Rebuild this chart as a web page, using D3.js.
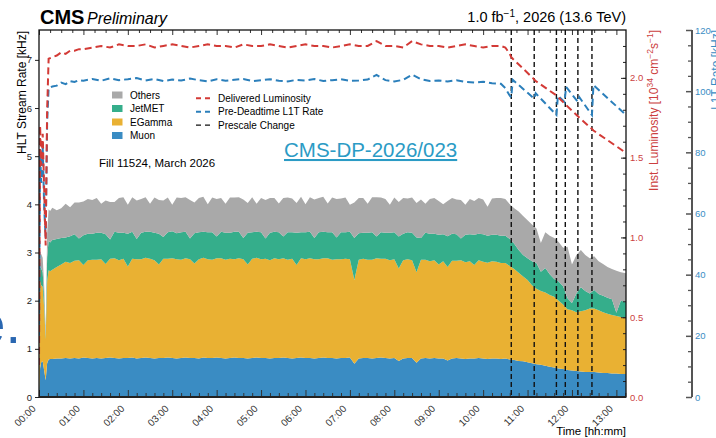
<!DOCTYPE html>
<html>
<head>
<meta charset="utf-8">
<script src="https://cdn.jsdelivr.net/npm/d3@7"></script>
<style>
  body { margin: 0; background: #fff; overflow: hidden; }
  svg text { font-family: "Liberation Sans", Arial, sans-serif; }
</style>
</head>
<body>
<script>
'use strict';

// stacked HLT stream rates, sampled in minutes since 00:00
const minutes = [
  0, 1.5, 3, 5, 7, 9, 11, 13, 15,
  18, 24, 30, 36, 42, 48, 54, 60, 66, 72, 78, 84, 90, 96, 102, 108, 114, 120, 126, 132,
  138, 144, 150, 156, 162, 168, 174, 180, 186, 192, 198, 204, 210, 216, 222, 228, 234, 240, 246, 252,
  258, 264, 270, 276, 282, 288, 294, 300, 306, 312, 318, 324, 330, 336, 342, 348, 354, 360, 366, 372,
  378, 384, 390, 396, 402, 408, 414, 420, 426, 432, 438, 444, 450, 456, 462, 468, 474, 480, 486, 492,
  498, 504, 510, 516, 522, 528, 534, 540, 546, 552, 558, 564, 570, 576, 582, 588, 594, 600, 606, 612,
  618, 624, 630,
  636, 642, 648, 654, 660, 666, 672, 678, 684, 690, 696, 702, 708, 714, 720, 726, 732, 738, 744, 750,
  756, 762, 768, 774, 780, 786, 793
];

const muon = [
  0.05, 0.60, 0.72, 0.74, 0.55, 0.35, 0.70, 0.78, 0.79,
  0.79, 0.80, 0.80, 0.81, 0.80, 0.81, 0.80, 0.82, 0.81, 0.80,
  0.81, 0.80, 0.81, 0.82, 0.81, 0.80, 0.81, 0.81, 0.82, 0.80,
  0.81, 0.82, 0.81, 0.80, 0.81, 0.81, 0.82, 0.81, 0.80, 0.81,
  0.82, 0.81, 0.81, 0.80, 0.82, 0.81, 0.81, 0.82, 0.81, 0.80,
  0.81, 0.82, 0.81, 0.81, 0.80, 0.81, 0.82, 0.81, 0.81, 0.80,
  0.81, 0.81, 0.82, 0.81, 0.80, 0.81, 0.82, 0.81, 0.81, 0.80,
  0.81, 0.82, 0.81, 0.81, 0.80, 0.81, 0.81, 0.82, 0.69, 0.80,
  0.81, 0.81, 0.80, 0.81, 0.82, 0.81, 0.80, 0.81, 0.75, 0.80,
  0.81, 0.81, 0.71, 0.80, 0.81, 0.80, 0.81, 0.80, 0.80, 0.76,
  0.80, 0.81, 0.80, 0.79, 0.80, 0.80, 0.81, 0.80, 0.79, 0.80,
  0.80, 0.79, 0.80,
  0.78, 0.77, 0.75, 0.74, 0.72, 0.70, 0.68, 0.67, 0.65, 0.63, 0.61, 0.59, 0.58, 0.56, 0.55,
  0.54, 0.53, 0.52, 0.52, 0.52, 0.51, 0.50, 0.50, 0.49, 0.49, 0.48, 0.48
];

const egamma = [
  0.40, 1.80, 1.60, 1.55, 1.30, 0.85, 1.70, 1.85, 1.82,
  1.85, 1.90, 1.95, 2.00, 1.98, 2.02, 2.04, 1.92, 2.03, 2.05,
  2.04, 2.06, 1.95, 2.05, 2.07, 2.04, 2.06, 1.90, 2.05, 2.06,
  2.05, 2.07, 2.06, 2.04, 1.94, 2.06, 2.05, 2.07, 2.06, 2.04,
  2.06, 2.05, 1.96, 2.06, 2.07, 2.05, 2.04, 2.06, 2.07, 2.05,
  2.06, 2.04, 2.07, 2.05, 1.95, 2.06, 2.07, 2.05, 2.06, 2.04,
  2.07, 2.05, 2.06, 2.04, 2.07, 1.93, 2.06, 2.05, 2.07, 2.06,
  2.05, 2.06, 2.07, 2.04, 2.06, 2.05, 2.06, 2.04, 1.74, 2.05,
  2.06, 2.04, 2.05, 2.07, 2.05, 2.06, 2.04, 2.05, 1.92, 2.04,
  2.05, 2.03, 1.88, 2.05, 2.04, 2.02, 2.03, 1.95, 2.02, 1.94,
  2.03, 2.02, 2.04, 2.01, 2.02, 1.94, 2.03, 2.01, 2.00, 2.02,
  2.01, 1.99, 1.98,
  1.94, 1.89, 1.83, 1.76, 1.71, 1.62, 1.57, 1.53, 1.52, 1.49, 1.47, 1.41, 1.34, 1.26, 1.25,
  1.22, 1.25, 1.28, 1.32, 1.32, 1.29, 1.26, 1.23, 1.21, 1.19, 1.18, 1.16
];

const jetmet = [
  0.05, 0.30, 0.35, 0.30, 0.20, 0.05, 0.50, 0.62, 0.60,
  0.62, 0.58, 0.55, 0.50, 0.56, 0.55, 0.45, 0.62, 0.55, 0.54,
  0.56, 0.55, 0.62, 0.40, 0.55, 0.57, 0.54, 0.68, 0.56, 0.42,
  0.55, 0.54, 0.56, 0.57, 0.64, 0.45, 0.55, 0.56, 0.54, 0.57,
  0.55, 0.43, 0.63, 0.56, 0.54, 0.56, 0.57, 0.45, 0.55, 0.56,
  0.54, 0.57, 0.55, 0.44, 0.66, 0.55, 0.54, 0.56, 0.42, 0.57,
  0.55, 0.56, 0.45, 0.57, 0.55, 0.67, 0.54, 0.56, 0.55, 0.44,
  0.56, 0.55, 0.54, 0.57, 0.45, 0.56, 0.55, 0.57, 0.87, 0.55,
  0.54, 0.56, 0.57, 0.45, 0.55, 0.54, 0.57, 0.56, 0.66, 0.55,
  0.56, 0.57, 0.72, 0.45, 0.56, 0.57, 0.55, 0.62, 0.56, 0.64,
  0.56, 0.55, 0.45, 0.57, 0.56, 0.63, 0.55, 0.57, 0.56, 0.55,
  0.56, 0.57, 0.57,
  0.56, 0.52, 0.47, 0.45, 0.45, 0.50, 0.53, 0.40, 0.51, 0.43, 0.37, 0.40, 0.38, 0.23, 0.15,
  0.39, 0.50, 0.40, 0.31, 0.38, 0.34, 0.34, 0.33, 0.33, 0.07, 0.34, 0.33
];

const others = [
  0.05, 0.25, 0.30, 0.30, 0.25, 0.10, 0.50, 0.65, 0.65,
  0.67, 0.60, 0.62, 0.70, 0.60, 0.66, 0.75, 0.70, 0.72, 0.70,
  0.72, 0.60, 0.70, 0.78, 0.62, 0.72, 0.74, 0.60, 0.72, 0.80,
  0.70, 0.72, 0.58, 0.73, 0.70, 0.76, 0.72, 0.55, 0.74, 0.71,
  0.72, 0.80, 0.64, 0.71, 0.73, 0.58, 0.72, 0.78, 0.70, 0.60,
  0.73, 0.71, 0.72, 0.80, 0.62, 0.73, 0.58, 0.71, 0.80, 0.72,
  0.70, 0.60, 0.80, 0.72, 0.70, 0.62, 0.74, 0.58, 0.72, 0.80,
  0.71, 0.73, 0.60, 0.72, 0.80, 0.70, 0.72, 0.56, 0.74, 0.73,
  0.72, 0.60, 0.73, 0.82, 0.72, 0.70, 0.58, 0.72, 0.72, 0.74,
  0.70, 0.73, 0.72, 0.80, 0.60, 0.72, 0.74, 0.70, 0.62, 0.73,
  0.74, 0.72, 0.80, 0.62, 0.73, 0.70, 0.74, 0.72, 0.60, 0.75,
  0.76, 0.78, 0.76,
  0.72, 0.74, 0.80, 0.81, 0.79, 0.76, 0.72, 0.60, 0.74, 0.80, 0.85, 0.82, 0.80, 1.07, 0.80,
  0.80, 0.77, 0.75, 0.73, 0.70, 0.68, 0.66, 0.64, 0.63, 0.87, 0.59, 0.60
];

// luminosity and L1T rate, sampled in minutes since 00:00
const lineMinutes = [
  0, 1.5, 3, 5, 7, 9, 11, 13,
  18, 24, 30, 36, 42, 48, 54, 60,
  72, 84, 96, 108, 120, 132, 144, 156, 168, 180, 192, 204, 216, 228, 240, 252,
  264, 276, 288, 300, 312, 324, 336, 348, 360, 372, 384, 396, 408, 420, 432, 444,
  456, 468, 480, 492, 504, 516, 528, 540, 552, 564, 576, 588, 600, 612, 624,
  630, 636, 638, 640, 667, 669, 671, 699, 701, 710, 712, 728, 730, 747, 749, 793
];

// delivered luminosity [1e34 cm^-2 s^-1]
const lumi = [
  0.20, 1.70, 1.45, 1.65, 1.30, 0.95, 1.80, 2.12,
  2.13, 2.14, 2.16, 2.15, 2.17, 2.17, 2.18, 2.18,
  2.19, 2.20, 2.19, 2.21, 2.20, 2.20, 2.21, 2.19, 2.20, 2.21, 2.20, 2.19, 2.20, 2.21, 2.20, 2.20,
  2.19, 2.21, 2.20, 2.20, 2.21, 2.20, 2.19, 2.20, 2.21, 2.20, 2.20, 2.19, 2.20, 2.21, 2.20, 2.20,
  2.23, 2.20, 2.20, 2.19, 2.23, 2.21, 2.20, 2.20, 2.19, 2.20, 2.21, 2.20, 2.19, 2.20, 2.20,
  2.19, 2.15, 2.13, 2.12, 2.00, 1.99, 1.98, 1.89, 1.88, 1.84, 1.83, 1.76, 1.75, 1.68, 1.67, 1.53
];

// pre-deadtime L1T rate [kHz]
const l1tRate = [
  20, 80, 70, 82, 62, 52, 90, 101,
  101.5, 101.8, 102.8, 102.3, 103.3, 103.0, 103.6, 103.4,
  104.0, 103.4, 104.2, 103.6, 103.9, 104.3, 103.5, 104.0, 103.3, 103.8, 103.5, 104.1, 103.6, 103.2, 103.9, 103.4,
  103.7, 104.0, 103.3, 103.6, 103.9, 103.4, 103.2, 103.7, 103.5, 104.0, 103.3, 103.6, 103.9, 103.4, 103.5, 103.8,
  105.3, 103.6, 103.2, 103.7, 105.4, 103.9, 103.3, 103.5, 103.2, 103.6, 103.0, 102.8, 103.1, 102.6, 102.4,
  101.0, 98.5, 98.0, 103.7, 98.0, 97.6, 99.3, 92.2, 98.5, 96.5, 101.4, 96.5, 98.0, 92.2, 102.0, 92.2
];

const prescaleMinutes = [638, 669, 699, 711, 728, 747];

const hourLabels = ["00:00", "01:00", "02:00", "03:00", "04:00", "05:00", "06:00",
  "07:00", "08:00", "09:00", "10:00", "11:00", "12:00", "13:00"];
const rateTicks = [0, 1, 2, 3, 4, 5, 6, 7];
const lumiTicks = [0, 0.5, 1.0, 1.5, 2.0];
const l1tTicks = [0, 20, 40, 60, 80, 100, 120];

const stackKeys = ["Muon", "EGamma", "JetMET", "Others"];
const stackLegend = ["Others", "JetMET", "EGamma", "Muon"];
const lineLegend = ["Delivered Luminosity", "Pre-Deadtime L1T Rate", "Prescale Change"];

(function() {

  let svg = null;
  const plot = { left: 39, right: 626, top: 30, bottom: 397 };
  const colors = {
    Others: "#a9a9a9",
    JetMET: "#35ae8b",
    EGamma: "#e9b133",
    Muon: "#3a8cc3"
  };
  const red = "#d33a36";
  const blue = "#2b7fbb";
  const redText = "#cc3f3f";
  const blueText = "#3a8dc4";

  window.onload = function() {
    svg = d3.select('body')
      .append('svg')
      .attr('width', 716)
      .attr('height', 438);

    svg.append('defs').append('clipPath')
      .attr('id', 'plotclip')
      .append('rect')
      .attr('x', plot.left)
      .attr('y', plot.top)
      .attr('width', plot.right - plot.left)
      .attr('height', plot.bottom - plot.top);

    let s = makeScales();
    drawStack(s);
    drawPrescale(s);
    drawLines(s);
    drawAxes(s);
    makeLabels();
    makeLegend();
  }

  function makeScales() {
    return {
      x: d3.scaleLinear().domain([0, 793]).range([plot.left, plot.right]),
      y: d3.scaleLinear().domain([0, 7.62]).range([plot.bottom, plot.top]),
      lumi: d3.scaleLinear().domain([0, 2.30]).range([plot.bottom, plot.top]),
      l1t: d3.scaleLinear().domain([0, 120]).range([plot.bottom, plot.top])
    };
  }

  // stacked areas: Muon at the bottom, Others on top
  function drawStack(s) {
    let rows = minutes.map((m, i) => ({
      t: m, Muon: muon[i], EGamma: egamma[i], JetMET: jetmet[i], Others: others[i]
    }));
    let series = d3.stack().keys(stackKeys)(rows);

    let area = d3.area()
      .x(d => s.x(d.data.t))
      .y0(d => s.y(d[0]))
      .y1(d => s.y(d[1]));

    svg.append('g')
      .attr('clip-path', 'url(#plotclip)')
      .selectAll('path')
      .data(series)
      .enter()
      .append('path')
        .attr('d', area)
        .attr('fill', d => colors[d.key]);
  }

  function drawPrescale(s) {
    svg.append('g')
      .selectAll('line')
      .data(prescaleMinutes)
      .enter()
      .append('line')
        .attr('x1', d => s.x(d))
        .attr('x2', d => s.x(d))
        .attr('y1', plot.top)
        .attr('y2', plot.bottom)
        .attr('stroke', '#111')
        .attr('stroke-width', 1.4)
        .attr('stroke-dasharray', '5,3');
  }

  function drawLines(s) {
    let pts = lineMinutes.map((m, i) => ({ t: m, lumi: lumi[i], l1t: l1tRate[i] }));
    let g = svg.append('g').attr('clip-path', 'url(#plotclip)');

    g.append('path')
      .datum(pts)
      .attr('d', d3.line().x(d => s.x(d.t)).y(d => s.l1t(d.l1t)))
      .attr('fill', 'none')
      .attr('stroke', blue)
      .attr('stroke-width', 2)
      .attr('stroke-dasharray', '7,4');

    g.append('path')
      .datum(pts)
      .attr('d', d3.line().x(d => s.x(d.t)).y(d => s.lumi(d.lumi)))
      .attr('fill', 'none')
      .attr('stroke', red)
      .attr('stroke-width', 2)
      .attr('stroke-dasharray', '7,4');
  }

  function styleAxis(g, color, size) {
    g.select('.domain').remove();
    g.selectAll('line').attr('stroke', color);
    g.selectAll('text').style('font-size', size).attr('fill', color);
  }

  function drawAxes(s) {
    let hours = hourLabels.map(l => +l.slice(0, 2) * 60);
    let minor12 = d3.range(0, 794, 12).filter(v => v % 60 !== 0);
    let minor15 = d3.range(0, 794, 15).filter(v => v % 60 !== 0);

    // bottom axis, inward ticks and rotated labels
    let xb = svg.append('g')
      .attr('transform', 'translate(0,' + plot.bottom + ')')
      .call(d3.axisBottom(s.x).tickValues(hours).tickSize(-7)
        .tickFormat((d, i) => hourLabels[i]));
    styleAxis(xb, '#333', '10px');
    xb.selectAll('text')
      .attr('x', -11)
      .attr('y', 3)
      .attr('dy', '0.35em')
      .attr('transform', 'rotate(-45)')
      .style('text-anchor', 'end');

    let xbm = svg.append('g')
      .attr('transform', 'translate(0,' + plot.bottom + ')')
      .call(d3.axisBottom(s.x).tickValues(minor12).tickSize(-4).tickFormat(''));
    styleAxis(xbm, '#333', '1px');

    // top axis, ticks only
    let xt = svg.append('g')
      .attr('transform', 'translate(0,' + plot.top + ')')
      .call(d3.axisTop(s.x).tickValues(hours).tickSize(-5).tickFormat(''));
    styleAxis(xt, '#333', '1px');
    let xtm = svg.append('g')
      .attr('transform', 'translate(0,' + plot.top + ')')
      .call(d3.axisTop(s.x).tickValues(minor15).tickSize(-3).tickFormat(''));
    styleAxis(xtm, '#333', '1px');

    // left HLT rate axis
    let yl = svg.append('g')
      .attr('transform', 'translate(' + plot.left + ',0)')
      .call(d3.axisLeft(s.y).tickValues(rateTicks).tickSize(4).tickPadding(3));
    styleAxis(yl, '#222', '9.5px');

    // right luminosity axis, inward ticks
    let yr = svg.append('g')
      .attr('transform', 'translate(' + plot.right + ',0)')
      .call(d3.axisRight(s.lumi).tickValues(lumiTicks).tickSize(-5).tickPadding(4)
        .tickFormat(d3.format('.1f')));
    styleAxis(yr, '#222', '9.5px');
    yr.selectAll('text').attr('fill', redText);
    let yrm = svg.append('g')
      .attr('transform', 'translate(' + plot.right + ',0)')
      .call(d3.axisRight(s.lumi).tickValues(d3.range(0.1, 2.3, 0.1)).tickSize(-3).tickFormat(''));
    styleAxis(yrm, '#222', '1px');

    // plot frame
    svg.append('rect')
      .attr('x', plot.left)
      .attr('y', plot.top)
      .attr('width', plot.right - plot.left)
      .attr('height', plot.bottom - plot.top)
      .attr('fill', 'none')
      .attr('stroke', '#111')
      .attr('stroke-width', 1.3);
    svg.append('line')
      .attr('x1', plot.left).attr('x2', plot.right)
      .attr('y1', plot.bottom).attr('y2', plot.bottom)
      .attr('stroke', '#222')
      .attr('stroke-width', 2.2);

    // detached L1T rate axis
    let ax = 692;
    let y3 = svg.append('g')
      .attr('transform', 'translate(' + ax + ',0)')
      .call(d3.axisRight(s.l1t).tickValues(l1tTicks).tickSize(-6).tickPadding(3));
    styleAxis(y3, '#555', '9.5px');
    y3.selectAll('line').attr('stroke-width', 1.5);
    y3.selectAll('text').attr('fill', blueText);
    let y3m = svg.append('g')
      .attr('transform', 'translate(' + ax + ',0)')
      .call(d3.axisRight(s.l1t).tickValues(d3.range(5, 120, 5).filter(v => v % 20 !== 0))
        .tickSize(-4).tickFormat(''));
    styleAxis(y3m, '#555', '1px');
    y3m.selectAll('line').attr('stroke-width', 1.3);
    svg.append('line')
      .attr('x1', ax).attr('x2', ax)
      .attr('y1', plot.top).attr('y2', plot.bottom)
      .attr('stroke', '#555')
      .attr('stroke-width', 2);
  }

  // text made of parts [string, isSuperscript]
  function superText(sel, parts, supSize) {
    let shift = 0;
    parts.forEach(p => {
      let want = p[1] ? -5 : 0;
      let span = sel.append('tspan').attr('dy', want - shift).text(p[0]);
      if (p[1]) span.style('font-size', supSize);
      shift = want;
    });
  }

  function makeLabels() {
    svg.append('text')
      .attr('x', 40)
      .attr('y', 24)
      .style('font-size', '20px')
      .style('font-weight', 'bold')
      .text('CMS');
    svg.append('text')
      .attr('x', 87)
      .attr('y', 24)
      .style('font-size', '16px')
      .style('font-style', 'italic')
      .text('Preliminary');

    let lumiText = svg.append('text')
      .attr('x', 626)
      .attr('y', 22)
      .attr('text-anchor', 'end')
      .style('font-size', '14.5px');
    superText(lumiText, [['1.0 fb', false], ['\u22121', true], [', 2026 (13.6 TeV)', false]], '10px');

    svg.append('text')
      .attr('transform', 'translate(26,31)rotate(-90)')
      .attr('text-anchor', 'end')
      .style('font-size', '12px')
      .text('HLT Stream Rate [kHz]');

    let lumiTitle = svg.append('text')
      .attr('transform', 'translate(658,30)rotate(-90)')
      .attr('text-anchor', 'end')
      .attr('fill', redText)
      .style('font-size', '12px');
    superText(lumiTitle, [['Inst. Luminosity [10', false], ['34', true], [' cm', false],
      ['\u22122', true], ['s', false], ['\u22121', true], [']', false]], '8.5px');

    svg.append('text')
      .attr('transform', 'translate(720,30)rotate(-90)')
      .attr('text-anchor', 'end')
      .attr('fill', blueText)
      .style('font-size', '12px')
      .text('L1T Rate [kHz]');

    svg.append('text')
      .attr('x', 626)
      .attr('y', 435)
      .attr('text-anchor', 'end')
      .style('font-size', '11.5px')
      .text('Time [hh:mm]');

    svg.append('text')
      .attr('x', 99)
      .attr('y', 167)
      .style('font-size', '11.5px')
      .text('Fill 11524, March 2026');

    svg.append('text')
      .attr('x', 284)
      .attr('y', 157)
      .attr('fill', '#2b9bc5')
      .style('font-size', '20.5px')
      .style('text-decoration', 'underline')
      .text('CMS-DP-2026/023');

    // piece of slide text showing at the left edge
    svg.append('text')
      .attr('x', 21)
      .attr('y', 343)
      .attr('text-anchor', 'end')
      .attr('fill', '#2a67b1')
      .style('font-size', '56px')
      .text('e.');
  }

  function makeLegend() {
    let lg = svg.append('g');
    stackLegend.forEach((name, i) => {
      let cy = 95 + i * 13.5;
      lg.append('rect')
        .attr('x', 112)
        .attr('y', cy - 3.5)
        .attr('width', 10.5)
        .attr('height', 7)
        .attr('fill', colors[name]);
      lg.append('text')
        .attr('x', 130)
        .attr('y', cy + 3.5)
        .style('font-size', '10px')
        .text(name);
    });

    let lineColors = [red, blue, '#111'];
    lineLegend.forEach((name, i) => {
      let cy = 98.3 + i * 13.4;
      lg.append('line')
        .attr('x1', 196).attr('x2', 210)
        .attr('y1', cy).attr('y2', cy)
        .attr('stroke', lineColors[i])
        .attr('stroke-width', i === 2 ? 1.4 : 2)
        .attr('stroke-dasharray', '5,4');
      lg.append('text')
        .attr('x', 218)
        .attr('y', cy + 3.5)
        .style('font-size', '10px')
        .text(name);
    });
  }

})();
</script>
</body>
</html>
